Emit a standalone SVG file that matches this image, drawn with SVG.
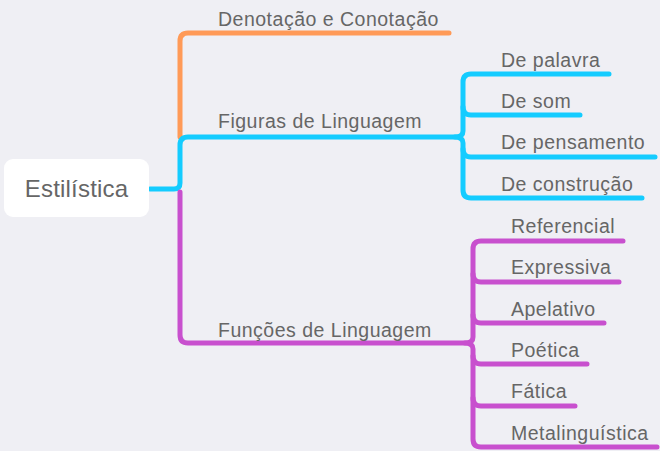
<svg xmlns="http://www.w3.org/2000/svg" width="660" height="451" viewBox="0 0 660 451">
<style>
.bg{fill:#EFEFF4}
.c{fill:none;stroke-width:5;stroke-linecap:round;stroke-linejoin:round}
.o{stroke:#FF9A57}
.b{stroke:#14CCFF}
.p{stroke:#C850CE}
text{font-family:"Liberation Sans",Arial,sans-serif;fill:#666666}
.t{font-size:19.5px;letter-spacing:0.5px}
.r{font-size:24px;letter-spacing:0.2px}
</style>
<rect class="bg" x="0" y="0" width="660" height="451"/>
<g id="connectors">
<path class="c o" d="M180,137 V41 Q180,33 188,33 H449"/>
<path class="c b" d="M150,189 H174 Q180,189 180,183 V145 Q180,137 188,137 H455 Q463,137 463,131 V82 Q463,74 471,74 H609"/>
<path class="c b" d="M463,107 Q463,115 471,115 H580"/>
<path class="c b" d="M455,137 Q463,137 463,143 V149 Q463,157 471,157 H655"/>
<path class="c b" d="M463,149 V190 Q463,198 471,198 H642"/>
<path class="c p" d="M180,192 V335 Q180,343 188,343 H465 Q473,343 473,337 V249 Q473,241 481,241 H623"/>
<path class="c p" d="M473,274 Q473,282 481,282 H619"/>
<path class="c p" d="M473,315 Q473,323 481,323 H604"/>
<path class="c p" d="M465,343 Q473,343 473,349 V356 Q473,364 481,364 H587"/>
<path class="c p" d="M473,356 V398 Q473,406 481,406 H575"/>
<path class="c p" d="M473,398 V439 Q473,447 481,447 H657"/>
</g>
<g id="root">
<rect x="4" y="159" width="145" height="58" rx="9" fill="#FFFFFF"/>
<text class="r" x="76.5" y="197" text-anchor="middle">Estilística</text>
</g>
<g id="n-denotacao"><text class="t" x="218" y="26">Denotação e Conotação</text></g>
<g id="n-figuras"><text class="t" x="218" y="128">Figuras de Linguagem</text></g>
<g id="n-funcoes"><text class="t" x="218" y="337">Funções de Linguagem</text></g>
<g id="n-palavra"><text class="t" x="501" y="67">De palavra</text></g>
<g id="n-som"><text class="t" x="501" y="108">De som</text></g>
<g id="n-pensamento"><text class="t" x="501" y="149">De pensamento</text></g>
<g id="n-construcao"><text class="t" x="501" y="191">De construção</text></g>
<g id="n-referencial"><text class="t" x="511" y="233">Referencial</text></g>
<g id="n-expressiva"><text class="t" x="511" y="274">Expressiva</text></g>
<g id="n-apelativo"><text class="t" x="511" y="316">Apelativo</text></g>
<g id="n-poetica"><text class="t" x="511" y="357">Poética</text></g>
<g id="n-fatica"><text class="t" x="511" y="398">Fática</text></g>
<g id="n-metalinguistica"><text class="t" x="511" y="440">Metalinguística</text></g>
</svg>
